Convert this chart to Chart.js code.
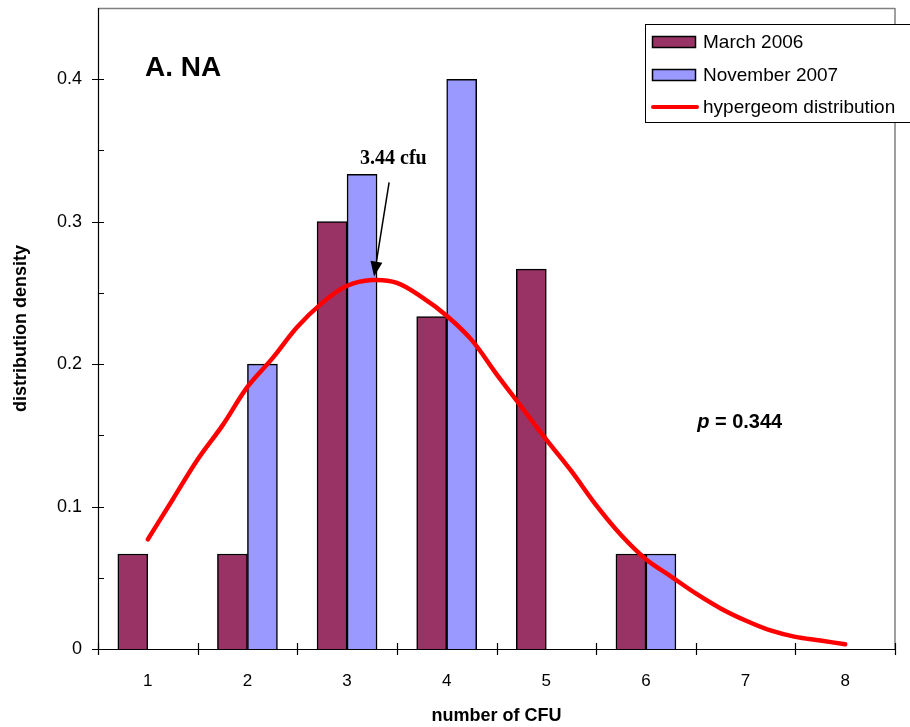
<!DOCTYPE html>
<html>
<head>
<meta charset="utf-8">
<script src="https://cdn.jsdelivr.net/npm/chart.js@4.4.1/dist/chart.umd.min.js"></script>
<style>
html,body{margin:0;padding:0;background:#fff;}
canvas{display:block;}
</style>
</head>
<body>
<canvas id="c" width="910" height="727" style="width:910px;height:727px"></canvas>
<script>
const categories = ['1','2','3','4','5','6','7','8'];
const march2006 = [0.0667, 0.0667, 0.3, 0.2333, 0.2667, 0.0667, null, null];
const november2007 = [null, 0.2, 0.3333, 0.4, null, 0.0667, null, null];
const curveX = [1,1.25,1.5,1.75,2,2.25,2.5,2.75,3,3.25,3.5,3.75,4,4.25,4.5,4.75,5,5.25,5.5,5.75,6,6.25,6.5,6.75,7,7.25,7.5,7.75,8];
const curveY = [0.077,0.105,0.133,0.157,0.184,0.204,0.226,0.243,0.255,0.259,0.257,0.247,0.234,0.217,0.193,0.170,0.147,0.125,0.101,0.080,0.063,0.051,0.039,0.0285,0.020,0.013,0.0085,0.006,0.0033];
const yTicks = [0, 0.1, 0.2, 0.3, 0.4];

const SANS = "'Liberation Sans', Arial, sans-serif";
const SERIF = "'Liberation Serif', 'Times New Roman', serif";

const deco = {
  id: 'deco',
  afterDraw(chart) {
    const ctx = chart.ctx;
    const ca = chart.chartArea;
    const xs = chart.scales.x, ys = chart.scales.y, x2 = chart.scales.x2;
    ctx.save();
    // frame: top and right in gray
    ctx.strokeStyle = '#808080';
    ctx.lineWidth = 1.5;
    ctx.beginPath();
    ctx.moveTo(ca.left, ca.top + 0.5); ctx.lineTo(ca.right, ca.top + 0.5);
    ctx.moveTo(ca.right, ca.top); ctx.lineTo(ca.right, ca.bottom);
    ctx.stroke();
    // axes
    ctx.strokeStyle = '#000';
    ctx.lineWidth = 1.2;
    ctx.beginPath();
    ctx.moveTo(ca.left + 0.5, ca.top); ctx.lineTo(ca.left + 0.5, ca.bottom);
    ctx.moveTo(ca.left, ca.bottom + 0.5); ctx.lineTo(ca.right, ca.bottom + 0.5);
    ctx.stroke();
    // y ticks
    ctx.beginPath();
    ys.ticks.forEach(t => {
      const v = Math.round(t.value * 100);
      if (v > 40) return;
      const py = Math.round(ys.getPixelForValue(t.value)) + 0.5;
      if (v % 10 === 0) { ctx.moveTo(ca.left - 6, py); ctx.lineTo(ca.left + 6, py); }
      else { ctx.moveTo(ca.left, py); ctx.lineTo(ca.left + 6, py); }
    });
    ctx.stroke();
    // x ticks at category boundaries
    const cw = (ca.right - ca.left) / categories.length;
    ctx.beginPath();
    for (let i = 0; i <= categories.length; i++) {
      const px = Math.round(xs.getPixelForTick(0) - cw / 2 + i * cw) + 0.5;
      ctx.moveTo(px, ca.bottom - 6); ctx.lineTo(px, ca.bottom + 6);
    }
    ctx.stroke();

    // axis titles
    ctx.fillStyle = '#000';
    ctx.font = 'bold 18px ' + SANS;
    ctx.textAlign = 'center'; ctx.textBaseline = 'middle';
    ctx.fillText('number of CFU', (ca.left + ca.right) / 2, 716);
    ctx.save();
    ctx.translate(21, (ca.top + ca.bottom) / 2);
    ctx.rotate(-Math.PI / 2);
    ctx.fillText('distribution density', 0, 0);
    ctx.restore();

    // panel label
    ctx.textAlign = 'left';
    ctx.font = 'bold 28px ' + SANS;
    ctx.fillText('A. NA', x2.getPixelForValue(0.972), ys.getPixelForValue(0.408));

    // peak annotation
    ctx.font = 'bold 20px ' + SERIF;
    ctx.fillText('3.44 cfu', x2.getPixelForValue(3.13), ys.getPixelForValue(0.3438));
    const ax0 = x2.getPixelForValue(3.422), ay0 = ys.getPixelForValue(0.3276);
    const ax1 = x2.getPixelForValue(3.271), ay1 = ys.getPixelForValue(0.2615);
    const ang = Math.atan2(ay1 - ay0, ax1 - ax0);
    const hl = 15, hw = 6;
    const bx = ax1 - hl * Math.cos(ang), by = ay1 - hl * Math.sin(ang);
    ctx.strokeStyle = '#000'; ctx.lineWidth = 1.5;
    ctx.beginPath(); ctx.moveTo(ax0, ay0); ctx.lineTo(bx, by); ctx.stroke();
    ctx.beginPath();
    ctx.moveTo(ax1, ay1);
    ctx.lineTo(bx + hw * Math.sin(ang), by - hw * Math.cos(ang));
    ctx.lineTo(bx - hw * Math.sin(ang), by + hw * Math.cos(ang));
    ctx.closePath(); ctx.fill();

    // p value
    let px = x2.getPixelForValue(6.514), py = ys.getPixelForValue(0.1589);
    ctx.font = 'italic bold 20px ' + SANS;
    ctx.fillText('p', px, py);
    px += ctx.measureText('p').width;
    ctx.font = 'bold 20px ' + SANS;
    ctx.fillText(' = 0.344', px, py);

    // legend
    ctx.fillStyle = '#fff';
    ctx.fillRect(645.5, 24.5, 270, 98);
    ctx.strokeStyle = '#000'; ctx.lineWidth = 1;
    ctx.strokeRect(645.5, 24.5, 270, 98);
    const items = [
      {label: 'March 2006', color: '#993366', y: 42},
      {label: 'November 2007', color: '#9999FF', y: 75}
    ];
    ctx.font = '19px ' + SANS;
    items.forEach(it => {
      ctx.fillStyle = it.color;
      ctx.fillRect(652.5, it.y - 5.5, 43, 11);
      ctx.strokeStyle = '#000'; ctx.lineWidth = 1.5;
      ctx.strokeRect(652.5, it.y - 5.5, 43, 11);
      ctx.fillStyle = '#000';
      ctx.fillText(it.label, 703, it.y + 1);
    });
    ctx.strokeStyle = '#FF0000'; ctx.lineWidth = 4; ctx.lineCap = 'round';
    ctx.beginPath(); ctx.moveTo(653, 107); ctx.lineTo(697, 107); ctx.stroke();
    ctx.fillStyle = '#000';
    ctx.fillText('hypergeom distribution', 703, 108);
    ctx.restore();
  }
};

new Chart(document.getElementById('c'), {
  type: 'bar',
  data: {
    labels: categories,
    datasets: [
      {type: 'line', label: 'hypergeom distribution', xAxisID: 'x2', yAxisID: 'y',
       data: curveX.map((x, i) => ({x: x, y: curveY[i]})),
       borderColor: '#FF0000', borderWidth: 4.5, pointRadius: 0, tension: 0.35, fill: false, borderCapStyle: 'round', borderJoinStyle: 'round'},
      {type: 'bar', label: 'March 2006', data: march2006, xAxisID: 'x', yAxisID: 'y', backgroundColor: '#993366', borderColor: '#000', borderWidth: 1.5, skipNull: false, barThickness: 30},
      {type: 'bar', label: 'November 2007', data: november2007, xAxisID: 'x', yAxisID: 'y', backgroundColor: '#9999FF', borderColor: '#000', borderWidth: 1.5, skipNull: false, barThickness: 30}
    ]
  },
  options: {
    responsive: false,
    devicePixelRatio: 1,
    animation: false,
    categoryPercentage: 0.6,
    barPercentage: 1.0,
    layout: {padding: {top: 8, right: 15, left: 0, bottom: 0}},
    plugins: {legend: {display: false}, tooltip: {enabled: false}},
    scales: {
      x: {
        type: 'category', offset: true,
        grid: {display: false, drawTicks: false, offset: true},
        border: {display: false},
        ticks: {color: '#000', font: {family: SANS, size: 17}, padding: 22, maxRotation: 0},
        afterFit: s => { s.height = 78; s.paddingLeft = 0; s.paddingRight = 0; }
      },
      x2: {
        type: 'linear', display: false, offset: false, min: 0.5, max: 8.5, position: 'bottom',
        grid: {offset: false}
      },
      y: {
        min: 0, max: 0.45,
        grid: {display: false, drawTicks: false},
        border: {display: false},
        ticks: {stepSize: 0.05, color: '#000', font: {family: SANS, size: 18}, padding: 16,
          callback: v => { const r = Math.round(v * 100); return (r % 10 === 0 && r <= 40) ? String(r / 100) : ''; }},
        afterFit: s => { s.width = 98; s.paddingTop = 0; s.paddingBottom = 0; }
      }
    }
  },
  plugins: [deco]
});
</script>
</body>
</html>
